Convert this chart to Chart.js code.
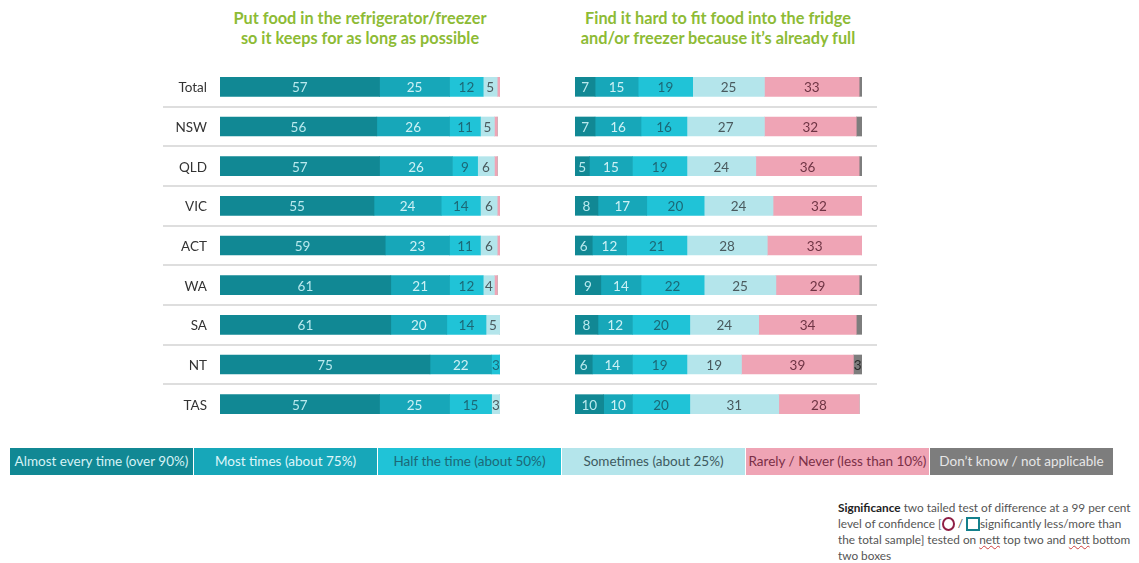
<!DOCTYPE html>
<html>
<head>
<meta charset="utf-8">
<script src="https://cdn.jsdelivr.net/npm/chart.js@4.4.0/dist/chart.umd.min.js"></script>
<style>
  html, body { margin:0; padding:0; background:#fff; }
  body { width:1139px; height:563px; position:relative; overflow:hidden; font-family: Lato, "Open Sans", sans-serif; }
  canvas { position:absolute; top:0; }
  .title { position:absolute; top:8px; color:#8dbb35; font-weight:bold; font-size:16.3px; line-height:20px; text-align:center; font-family: Lato, sans-serif; }
  #legend { position:absolute; left:10px; top:448px; height:27px; display:flex; }
  #legend div { width:183px; height:27px; line-height:27px; text-align:center; font-size:13.5px; margin-right:1px; white-space:nowrap; }
  #sig { position:absolute; left:838px; top:500px; width:300px; font-size:11.8px; line-height:16px; color:#555; }
  #sig b { color:#222; }
  .circ { display:inline-block; width:13px; height:14px; border:2px solid #8e1f45; border-radius:50%; vertical-align:-3px; box-sizing:border-box; }
  .sq { display:inline-block; width:14px; height:14px; border:2px solid #14808c; vertical-align:-3px; box-sizing:border-box; }
  .sp { text-decoration: underline wavy #d04040; text-decoration-thickness:1px; }
</style>
</head>
<body>
<div class="title" style="left:190px;width:340px;">Put food in the refrigerator/freezer<br>so it keeps for as long as possible</div>
<div class="title" style="left:548px;width:340px;">Find it hard to fit food into the fridge<br>and/or freezer because it’s already full</div>
<canvas id="left" width="520" height="440" style="left:0px;"></canvas>
<canvas id="right" width="619" height="440" style="left:520px;"></canvas>
<div id="legend"></div>
<div id="sig"><b>Significance</b> two tailed test of difference at a 99 per cent level of confidence [<span class="circ"></span> / <span class="sq"></span>significantly less/more than the total sample] tested on <span class="sp">nett</span> top two and <span class="sp">nett</span> bottom two boxes</div>
<script>
// ---- Data ----
const categories = ['Total','NSW','QLD','VIC','ACT','WA','SA','NT','TAS'];
const seriesNames = ['Almost every time (over 90%)','Most times (about 75%)','Half the time (about 50%)','Sometimes (about 25%)','Rarely / Never (less than 10%)','Don\u2019t know / not applicable'];

// Left panel: Put food in the refrigerator/freezer
const leftAlmost    = [57,56,57,55,59,61,61,75,57];
const leftMost      = [25,26,26,24,23,21,20,22,25];
const leftHalf      = [12,11, 9,14,11,12,14, 3,15];
const leftSometimes = [ 5, 5, 6, 6, 6, 4, 5, 0, 3];
const leftRarely    = [ 1, 1, 1, 1, 1, 1, 0, 0, 0];
const leftDontKnow  = [ 0, 0, 0, 0, 0, 0, 0, 0, 0];

// Right panel: Find it hard to fit food into the fridge/freezer
const rightAlmost    = [ 7, 7, 5, 8, 6, 9, 8, 6,10];
const rightMost      = [15,16,15,17,12,14,12,14,10];
const rightHalf      = [19,16,19,20,21,22,20,19,20];
const rightSometimes = [25,27,24,24,28,25,24,19,31];
const rightRarely    = [33,32,36,32,33,29,34,39,28];
const rightDontKnow  = [ 1, 2, 1, 0, 0, 1, 2, 3, 0];

// ---- Styles ----
const colors = ['#118894','#17a7b9','#20c3d7','#b4e5eb','#efa4b5','#7d7d7d'];
const labelColors = ['#b9e9ee','#cdf1f5','#1c6876','#4a5a5e','#6e3444','#2a2a2a'];
const legendText = ['#d6f3f6','#dff6f9','#1c6876','#3d5a60','#7a2f47','#e6e6e6'];

// Legend
const lg = document.getElementById('legend');
seriesNames.forEach((n,i)=>{
  const d = document.createElement('div');
  d.textContent = n; d.style.background = colors[i]; d.style.color = legendText[i];
  lg.appendChild(d);
});

const valueLabels = {
  id:'valueLabels',
  afterDatasetsDraw(chart){
    const ctx = chart.ctx;
    ctx.save();
    ctx.font = '13.5px Lato, sans-serif';
    ctx.textAlign = 'center';
    ctx.textBaseline = 'middle';
    chart.data.datasets.forEach((ds,di)=>{
      const meta = chart.getDatasetMeta(di);
      meta.data.forEach((el,i)=>{
        const v = ds.data[i];
        if (v >= 3) {
          const c = el.getCenterPoint();
          ctx.fillStyle = labelColors[di];
          ctx.fillText(String(v), c.x, c.y + 1);
        }
      });
    });
    ctx.restore();
  }
};

// category labels drawn at the y-scale's pixel positions
function categoryLabels(show){
  return {
    id:'categoryLabels',
    afterDraw(chart){
      if (!show) return;
      const ys = chart.scales.y, ctx = chart.ctx;
      ctx.save();
      ctx.font = '13.5px Lato, sans-serif';
      ctx.fillStyle = '#333';
      ctx.textAlign = 'right';
      ctx.textBaseline = 'middle';
      categories.forEach((c,i)=> ctx.fillText(c, chart.chartArea.left - 13, ys.getPixelForValue(i) + 1));
      ctx.restore();
    }
  };
}

function separators(x0, x1){
  return {
    id:'separators',
    beforeDatasetsDraw(chart){
      const ys = chart.scales.y;
      const ctx = chart.ctx;
      ctx.save();
      ctx.strokeStyle = '#dedede';
      ctx.lineWidth = 2;
      for (let i=0;i<categories.length-1;i++){
        const y = Math.round((ys.getPixelForValue(i)+ys.getPixelForValue(i+1))/2);
        ctx.beginPath(); ctx.moveTo(x0,y); ctx.lineTo(x1,y); ctx.stroke();
      }
      ctx.restore();
    }
  };
}

function makeChart(id, arrays, showY, padding, sepRange){
  const datasets = arrays.map((arr,i)=>({
    label: seriesNames[i], data: arr, backgroundColor: colors[i],
    borderWidth:0, barThickness:19
  }));
  return new Chart(document.getElementById(id), {
    type:'bar',
    data:{ labels: categories, datasets },
    options:{
      indexAxis:'y', responsive:false, animation:false, devicePixelRatio:1,
      layout:{ padding },
      plugins:{ legend:{display:false}, tooltip:{enabled:false}, title:{display:false} },
      scales:{
        x:{ stacked:true, min:0, max:100, display:false },
        y:{ stacked:true, display:false }
      }
    },
    plugins:[valueLabels, categoryLabels(showY), separators(sepRange[0], sepRange[1])]
  });
}

makeChart('left', [leftAlmost,leftMost,leftHalf,leftSometimes,leftRarely,leftDontKnow], true,
  {left:220,right:20,top:67,bottom:16}, [163,520]);
makeChart('right', [rightAlmost,rightMost,rightHalf,rightSometimes,rightRarely,rightDontKnow], false,
  {left:55,right:277,top:67,bottom:16}, [0,357]);
</script>
</body>
</html>
